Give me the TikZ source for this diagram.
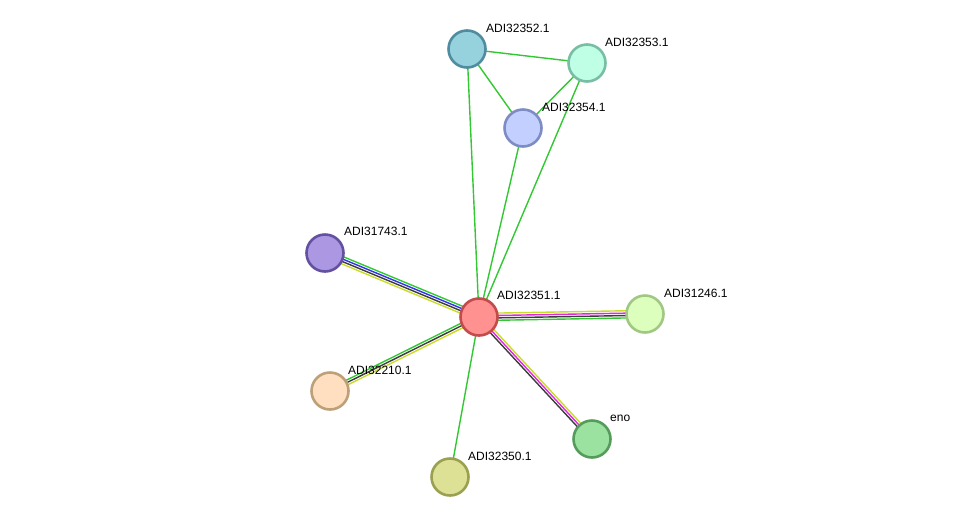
\documentclass[tikz,border=0pt]{standalone}
\usepackage{fontspec}
\setmainfont{Liberation Sans}
\usetikzlibrary{calc,backgrounds}
\definecolor{eg}{RGB}{51,200,51}
\definecolor{eb}{RGB}{50,50,235}
\definecolor{ek}{RGB}{60,60,60}
\definecolor{ey}{RGB}{200,220,40}
\definecolor{em}{RGB}{225,40,225}
\definecolor{d52}{RGB}{80,140,160}\definecolor{f52}{RGB}{150,210,222}
\definecolor{d53}{RGB}{120,190,165}\definecolor{f53}{RGB}{190,255,230}
\definecolor{d54}{RGB}{125,140,195}\definecolor{f54}{RGB}{195,207,255}
\definecolor{d43}{RGB}{100,80,160}\definecolor{f43}{RGB}{172,152,226}
\definecolor{d51}{RGB}{195,75,75}\definecolor{f51}{RGB}{255,145,145}
\definecolor{d46}{RGB}{160,200,130}\definecolor{f46}{RGB}{220,255,190}
\definecolor{d10}{RGB}{190,160,120}\definecolor{f10}{RGB}{255,223,192}
\definecolor{deno}{RGB}{85,155,90}\definecolor{feno}{RGB}{155,225,160}
\definecolor{d50}{RGB}{155,160,80}\definecolor{f50}{RGB}{220,225,150}
\tikzset{
  prot/.style={circle, draw=d#1, fill=f#1, line width=2.6pt, minimum size=37pt, inner sep=0pt},
  lab/.style={anchor=west, inner sep=0pt, font=\fontsize{12}{14}\selectfont},
  edge/.style={line width=1.4pt},
}
\newcommand\pe[4]{\draw[edge,#4] ($(#1)!#3pt!90:(#2)$) -- ($(#2)!#3pt!-90:(#1)$);}
\begin{document}
\begin{tikzpicture}[x=1pt,y=-1pt]
\useasboundingbox (0,0) rectangle (976,523);
\node[prot=52] (n52) at (467,49) {};
\node[prot=53] (n53) at (587,63) {};
\node[prot=54] (n54) at (523,128) {};
\node[prot=43] (n43) at (325,253) {};
\node[prot=51] (n51) at (479,317) {};
\node[prot=46] (n46) at (645,314) {};
\node[prot=10] (n10) at (330,391) {};
\node[prot=eno] (eno) at (592,439) {};
\node[prot=50] (n50) at (450,477) {};
\node[lab] (l52) at (486,28) {ADI32352.1};
\node[lab] (l53) at (605,42) {ADI32353.1};
\node[lab] (l54) at (542,107) {ADI32354.1};
\node[lab] (l43) at (344,231) {ADI31743.1};
\node[lab] (l51) at (497,295) {ADI32351.1};
\node[lab] (l46) at (664,293) {ADI31246.1};
\node[lab] (l10) at (348,370) {ADI32210.1};
\node[lab] (leno) at (610,418) {eno};
\node[lab] (l50) at (468,456) {ADI32350.1};
\begin{pgfonlayer}{background}
\pe{n52}{n53}{0}{eg}
\pe{n52}{n54}{0}{eg}
\pe{n52}{n51}{0}{eg}
\pe{n53}{n54}{0}{eg}
\pe{n53}{n51}{0}{eg}
\pe{n54}{n51}{0}{eg}
\pe{n51}{n50}{0}{eg}
\pe{n43}{n51}{3.6}{eg}
\pe{n43}{n51}{1.2}{eb}
\pe{n43}{n51}{-1.2}{ek}
\pe{n43}{n51}{-3.6}{ey}
\pe{n51}{n46}{3.6}{ey}
\pe{n51}{n46}{1.2}{em}
\pe{n51}{n46}{-1.2}{ek}
\pe{n51}{n46}{-3.6}{eg}
\pe{n51}{n10}{-2.4}{eg}
\pe{n51}{n10}{0}{ek}
\pe{n51}{n10}{2.4}{ey}
\pe{n51}{eno}{2.4}{ey}
\pe{n51}{eno}{0}{em}
\pe{n51}{eno}{-2.4}{ek}
\end{pgfonlayer}
\end{tikzpicture}
\end{document}
